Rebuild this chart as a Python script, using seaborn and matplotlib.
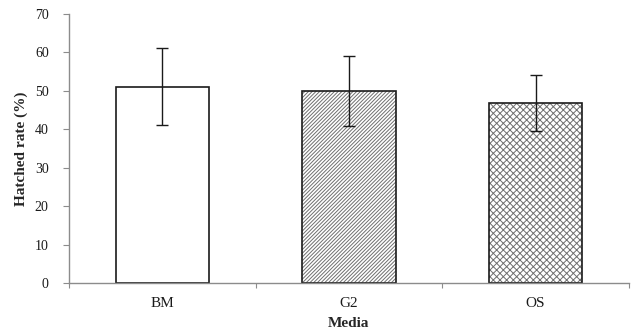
import matplotlib
matplotlib.use("Agg")
import matplotlib.pyplot as plt
import seaborn as sns
import pandas as pd

# -----------------------------
# Data
# -----------------------------
media = ["BM", "G2", "OS"]
hatched_rate = [51.1, 50.0, 46.8]
sd = [10.0, 9.1, 7.2]
hatches = ["", "/" * 9, "x" * 5]

# -----------------------------
# Style
# -----------------------------
sns.set_theme(style="white")
plt.rcParams["font.family"] = ["Liberation Serif", "DejaVu Serif"]
plt.rcParams["hatch.linewidth"] = 0.7
plt.rcParams["hatch.color"] = "#6f6f6f"

df = pd.DataFrame({"Media": media, "rate": hatched_rate})

fig = plt.figure(figsize=(6.32, 3.32), dpi=100)
ax = fig.add_axes([0.109, 0.1476, 0.886, 0.8102])

# hatched fill layer (gray hatch lines, no outline)
sns.barplot(data=df, x="Media", y="rate", color="white", width=0.5,
            errorbar=None, linewidth=0, edgecolor="#6f6f6f", saturation=1, ax=ax)
for patch, h in zip(ax.patches, hatches):
    patch.set_hatch(h)

# outline layer
sns.barplot(data=df, x="Media", y="rate", fill=False, width=0.5,
            errorbar=None, linewidth=1.2, edgecolor="#1a1a1a", ax=ax)

ax.errorbar(range(len(media)), hatched_rate, yerr=sd, fmt="none",
            ecolor="#1a1a1a", elinewidth=1.0, capsize=4, capthick=1.0)

ax.set_xlim(-0.5, 2.5)
ax.set_ylim(0, 70)
ax.set_yticks(range(0, 71, 10))

for side in ["top", "right"]:
    ax.spines[side].set_visible(False)
for side in ["left", "bottom"]:
    ax.spines[side].set_color("#8c8c8c")
    ax.spines[side].set_linewidth(1.0)

ax.tick_params(axis="y", which="major", left=True, length=4.5, width=0.8,
               color="#8c8c8c", pad=10, labelsize=10, labelcolor="#1a1a1a")
ax.tick_params(axis="x", which="major", bottom=False, length=0, pad=10,
               labelsize=11, labelcolor="#1a1a1a")
ax.set_xticks([-0.5, 0.5, 1.5, 2.5], minor=True)
ax.tick_params(axis="x", which="minor", bottom=True, length=3.5, width=0.8,
               color="#8c8c8c")

ax.set_xlabel("Media", fontsize=11, fontweight="bold", labelpad=5)
ax.set_ylabel("Hatched rate (%)", fontsize=11, fontweight="bold", labelpad=5)

plt.savefig("out.png", dpi=100)
plt.close()
